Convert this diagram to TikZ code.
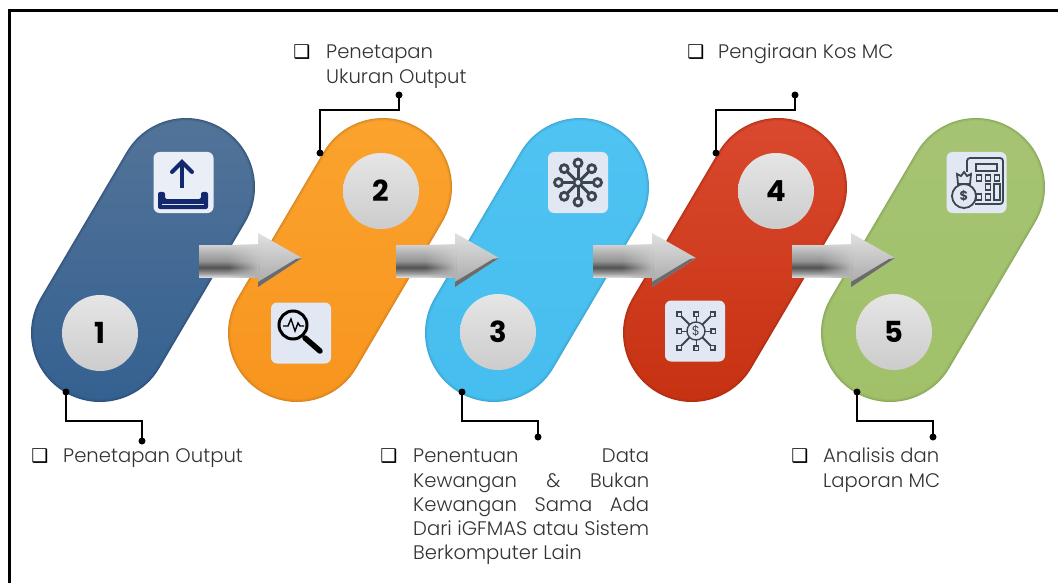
\documentclass[tikz,border=0pt]{standalone}
\usepackage{fontspec}
\setmainfont{Poppins Light}
\newfontfamily\symfont{DejaVu Sans}
\newfontfamily\numfont{Poppins}
\usetikzlibrary{fadings}
\definecolor{inkgray}{HTML}{333333}
\definecolor{navyicon}{HTML}{14286E}
\definecolor{darkicon}{HTML}{3C4650}
\definecolor{boxpale}{HTML}{E1E8F3}
\definecolor{blueEdge}{HTML}{2A4A70}
\definecolor{blueLow}{HTML}{325F90}
\definecolor{blueHigh}{HTML}{557599}
\definecolor{orangeEdge}{HTML}{C97A1C}
\definecolor{orangeLow}{HTML}{F7941D}
\definecolor{orangeHigh}{HTML}{FBA42F}
\definecolor{skyEdge}{HTML}{3A9CC8}
\definecolor{skyLow}{HTML}{45BDEE}
\definecolor{skyHigh}{HTML}{50C4F3}
\definecolor{redEdge}{HTML}{A62A12}
\definecolor{redLow}{HTML}{C4300F}
\definecolor{redHigh}{HTML}{DC4A30}
\definecolor{greenEdge}{HTML}{7F9C52}
\definecolor{greenLow}{HTML}{A0C068}
\definecolor{greenHigh}{HTML}{A6C474}
\pgfdeclareverticalshading{shaftshade}{100bp}{color(0bp)=(black!15); color(25bp)=(black!15); color(31bp)=(black!40); color(40bp)=(black!68); color(50bp)=(black!42); color(65bp)=(black!28); color(75bp)=(black!18); color(100bp)=(black!18)}
\tikzset{
  capsule/.style={inner sep=0pt,rotate=59.5,minimum width=307.4pt-#1pt,minimum height=138pt-#1pt,rounded corners=69pt-0.5*#1pt},
  numcircle/.style={circle,inner sep=0pt,minimum size=76pt,top color=black!10,bottom color=black!20,text=black,font=\numfont\bfseries\fontsize{29}{29}\selectfont},
  iconbox/.style={inner sep=0pt,minimum width=60pt,minimum height=61pt,rounded corners=6pt,fill=boxpale},
  notebullet/.style={inner sep=0pt,text=black,font=\symfont\fontsize{19}{19}\selectfont},
  notetext/.style={anchor=north west,inner sep=0pt,align=left,text=inkgray,font=\fontsize{19.6}{24.3}\selectfont},
  leader/.style={line width=1.6pt,black}
}
\newcommand{\capsulebody}[5]{% name, centre x, edge, low end, high end
  \foreach \inset/\mixval in {0/35,2/65,4/85,6/100}{
    \node[capsule=\inset,bottom color=#4!\mixval!#3,top color=#5!\mixval!#3] (capsule#1-\inset) at (#2,260) {};
  }
}
\newcommand{\flowarrow}[1]{% shift of one arrow
  \begin{scope}[xshift=#1pt]
    \shade[top color=black!12,bottom color=black!35] (258,233) -- (302,258) -- (258,287) -- cycle;
    \fill[black!58] (258,287) -- (302,258) -- (296,259) -- (258,282) -- cycle;
    \shade[shading=shaftshade] (199,245) rectangle (259,277);
    \shade[top color=black!17,bottom color=black!31,path fading=west] (228,245) rectangle (259,277);
  \end{scope}
}
\newcommand{\leaderline}[6]{% name, start x,y, bend x,y and end y
  \coordinate (lead#1a) at (#2,#3);
  \coordinate (lead#1b) at (#4,#5);
  \coordinate (lead#1c) at (#4,#6);
  \draw[leader] (lead#1a) |- (lead#1b) -- (lead#1c);
  \fill (lead#1a) circle (3.5pt);
  \fill (lead#1c) circle (3.5pt);
}
\begin{document}
\begin{tikzpicture}[x=1pt,y=-1pt]
  \useasboundingbox (0,0) rectangle (1058,583);
  \draw[line width=2.2pt] (9.5,583) -- (9.5,10.5) -- (1058,10.5) ; %Frame

  \capsulebody{1}{143}{blueEdge}{blueLow}{blueHigh}
  \capsulebody{2}{340}{orangeEdge}{orangeLow}{orangeHigh}
  \capsulebody{3}{537}{skyEdge}{skyLow}{skyHigh}
  \capsulebody{4}{735}{redEdge}{redLow}{redHigh}
  \capsulebody{5}{933}{greenEdge}{greenLow}{greenHigh}

  \node[numcircle] (num1) at (100,333) {1};
  \node[numcircle] (num2) at (381,191) {2};
  \node[numcircle] (num3) at (498,332) {3};
  \node[numcircle] (num4) at (776,191) {4};
  \node[numcircle] (num5) at (894,332) {5};

  \flowarrow{0}
  \flowarrow{197}
  \flowarrow{394}
  \flowarrow{593}

  % upload icon
  \node[iconbox,fill=boxpale!70!white] (icon1) at (183.5,182.5) {};
  \draw[navyicon,line width=4pt] (182,188) -- (182,164);
  \draw[navyicon,line width=4pt,line cap=round] (172,172) -- (182,162) -- (192,172);
  \fill[navyicon,rounded corners=2pt] (158,192) -- (165,192) -- (165,199) -- (201,199) -- (201,192) -- (208,192) -- (208,209) -- (158,209) -- cycle;
  \draw[boxpale,line width=1.2pt] (162,204.5) -- (204,204.5);

  % magnifier icon
  \node[iconbox] (icon2) at (301,333) {};
  \draw[black,line width=3pt] (293,325) circle (14pt);
  \draw[black,line width=5.5pt,line cap=round] (305,338) -- (320,351);
  \draw[black,line width=1.4pt] (283,326) -- (288,326) -- (291,319) -- (295,331) -- (298,323) -- (300,326) -- (304,326);

  % network icon
  \node[iconbox] (icon3) at (578,182.5) {};
  \foreach \ang in {0,45,...,315}{
    \draw[darkicon,line width=3pt] (578,182.5) -- +(\ang:15);
    \draw[darkicon,line width=2.8pt,fill=boxpale] (578,182.5) +(\ang:19.5) circle (4pt);
  }
  \draw[darkicon,line width=2.6pt,fill=boxpale] (578,182.5) circle (4pt);

  % money spread icon
  \node[iconbox] (icon4) at (695,331) {};
  \foreach \ang/\rad/\wid in {0/17/1,45/24/1.8,90/17/1,135/24/1.8,180/17/1,225/24/1.8,270/17/1,315/24/1.8}{
    \draw[darkicon,line width=\wid pt] (696,331) +(\ang:9) -- +(\ang:\rad-3);
    \draw[darkicon,line width=1.4pt,fill=boxpale] (696,331) ++(\ang:\rad) +(-2.2,-2.2) rectangle +(2.2,2.2);
  }
  \draw[darkicon,line width=1.4pt] (696,331) circle (9pt);
  \node[inner sep=0pt,text=darkicon,font=\numfont\fontsize{13}{13}\selectfont] (dollar4) at (696,331) {\$};

  % calculator icon
  \node[iconbox] (icon5) at (976.5,182.5) {};
  \draw[darkicon,line width=1.8pt,rounded corners=3pt] (967,172) -- (967,158) -- (1003,158) -- (1003,204) -- (975,204);
  \draw[darkicon,line width=1.4pt] (976,164) rectangle (997,171);
  \foreach \kx/\ky in {979/178,988/178,997/178,988/187,988/197,979/197}{
    \draw[darkicon,line width=1.4pt] (\kx-2.5,\ky-3) rectangle (\kx+2.5,\ky+3);
  }
  \draw[darkicon,line width=1.4pt] (994,184) rectangle (1000,200);
  \draw[darkicon,line width=1.8pt,fill=boxpale] (964,196) circle (12pt);
  \draw[darkicon,line width=1.8pt,fill=boxpale] (958,184) -- (957,174) -- (961,176) -- (964,172) -- (967,176) -- (971,174) -- (970,184) -- cycle;
  \node[inner sep=0pt,text=darkicon,font=\numfont\bfseries\fontsize{13}{13}\selectfont] (dollar5) at (964,196) {\$};

  \leaderline{1}{66}{392}{142}{421}{441}
  \leaderline{2}{320}{153}{399}{110}{95}
  \leaderline{3}{462}{392}{538}{421}{437}
  \leaderline{4}{716}{153}{795}{110}{95}
  \leaderline{5}{857}{392}{933}{421}{437}

  \node[notebullet] (bullet1) at (40,456) {❑};
  \node[notetext] (note1) at (63,445.5) {\strut Penetapan Output};
  \node[notebullet] (bullet2) at (302,52) {❑};
  \node[notetext] (note2) at (326,41.5) {\strut Penetapan\\Ukuran Output};
  \node[notebullet] (bullet3) at (389,456) {❑};
  \node[notetext] (note3) at (413,445.5) {\strut\makebox[236pt][s]{Penentuan\hfill Data}\\\makebox[236pt][s]{Kewangan\hfill \&\hfill Bukan}\\\makebox[236pt][s]{Kewangan\hfill Sama\hfill Ada}\\\makebox[236pt][s]{Dari\hfill iGFMAS\hfill atau\hfill Sistem}\\Berkomputer Lain};
  \node[notebullet] (bullet4) at (696,52) {❑};
  \node[notetext] (note4) at (718,41.5) {\strut Pengiraan Kos MC};
  \node[notebullet] (bullet5) at (800,456) {❑};
  \node[notetext] (note5) at (823,445.5) {\strut Analisis dan\\Laporan MC};
\end{tikzpicture}
\end{document}
